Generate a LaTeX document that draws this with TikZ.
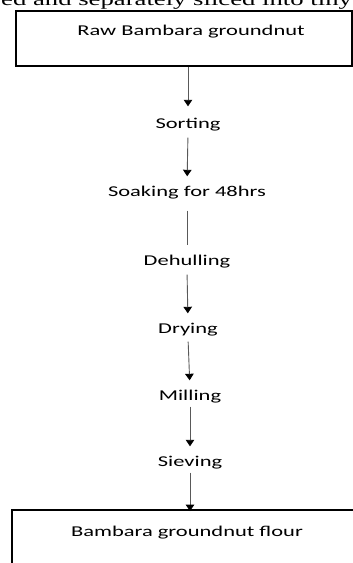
\documentclass[tikz,border=0pt]{standalone}
\usepackage{fontspec}
\setmainfont{Carlito}[FakeStretch=1.5]
\newfontfamily\bodyserif{Liberation Serif}[FakeStretch=1.5]
\usetikzlibrary{arrows.meta}
\begin{document}
\begin{tikzpicture}[x=1pt,y=-1pt,
  stage/.style={inner sep=0pt,text height=11pt,text depth=4pt,font=\fontsize{15}{18}\selectfont},
  frame/.style={draw=black,line width=1.8pt,inner sep=0pt},
  flow/.style={draw=black!65,line width=0.9pt,-{Triangle[width=8.5pt,length=6.5pt,color=black]}},
  plain/.style={draw=black!65,line width=0.9pt}]
\useasboundingbox (0,0) rectangle (353,563);
\clip (0,0) rectangle (353,563);
% running text of the page above the chart
\node[anchor=base west,inner sep=0pt,font=\bodyserif\fontsize{17.8}{20}\selectfont] (page) at (1,5) {ed and separately sliced into tiny};
% boxes
\node[frame,minimum width=336pt,minimum height=55pt] (rawbox) at (184,38.5) {};
\node[frame,minimum width=360pt,minimum height=100pt] (flourbox) at (192,560) {};
\node[stage] (raw) at (191,32) {Raw Bambara groundnut};
\node[stage] (flour) at (187,533) {Bambara groundnut flour};
% processing steps
\node[stage] (sorting) at (188,125) {Sorting};
\node[stage] (soaking) at (187,193) {Soaking for 48hrs};
\node[stage] (dehulling) at (187,262) {Dehulling};
\node[stage] (drying) at (188,330) {Drying};
\node[stage] (milling) at (190,397) {Milling};
\node[stage] (sieving) at (190,463) {Sieving};
% connectors
\draw[flow,shorten >=11pt] (rawbox.south -| sorting) -- (sorting.north);
\draw[flow,shorten <=5pt,shorten >=9pt] (sorting.south) -- (soaking.north);
\draw[plain,shorten <=10pt,shorten >=9pt] (soaking.south) -- (dehulling.north);
\draw[flow,shorten <=5pt,shorten >=9pt] (dehulling.south) -- (drying.north);
\draw[flow,shorten <=4pt,shorten >=9pt] (drying.south) -- (milling.north);
\draw[flow,shorten <=2pt,shorten >=9pt] (milling.south) -- (sieving.north);
\draw[flow,shorten <=2pt,shorten >=-2pt] (sieving.south) -- (sieving.south |- flourbox.north);
\end{tikzpicture}
\end{document}
